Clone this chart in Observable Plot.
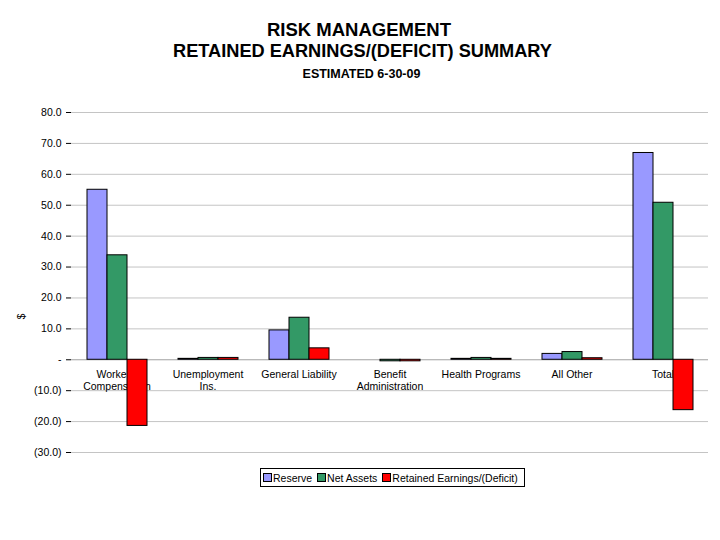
<!DOCTYPE html>
<html>
<head>
<meta charset="utf-8">
<script src="https://cdn.jsdelivr.net/npm/d3@7"></script>
<script src="https://cdn.jsdelivr.net/npm/@observablehq/plot@0.6"></script>
<style>
  html, body { margin: 0; padding: 0; background: #fff; }
  body { width: 720px; height: 540px; position: relative; font-family: "Liberation Sans", Arial, sans-serif; }
  #titles { position: absolute; left: 0; top: 0; width: 720px; text-align: center; color: #000; }
  #t1 { position: absolute; top: 19px; width: 718px; font-size: 18.5px; font-weight: bold; }
  #t2 { position: absolute; top: 41px; width: 725px; font-size: 18.2px; font-weight: bold; }
  #t3 { position: absolute; top: 67px; width: 723px; font-size: 12.5px; font-weight: bold; }
  #chart { position: absolute; left: 0; top: 100px; }
  #ylab { position: absolute; left: 19px; top: 311px; font-size: 10px; transform: rotate(-90deg); transform-origin: center; }
  #legend { position: absolute; left: 260px; top: 468px; height: 17px; border: 1px solid #000; padding-right: 3px;
            font-size: 10.5px; display: flex; align-items: center; white-space: nowrap; }
  .item { display: flex; align-items: center; margin-left: 2px; margin-right: 3px; }
  .sw { width: 7px; height: 7px; border: 1px solid #000; margin-right: 1px; }
</style>
</head>
<body>
<div id="titles">
  <div id="t1">RISK MANAGEMENT</div>
  <div id="t2">RETAINED EARNINGS/(DEFICIT) SUMMARY</div>
  <div id="t3">ESTIMATED 6-30-09</div>
</div>
<div id="ylab">$</div>
<div id="chart"></div>
<div id="legend"></div>
<script>
const categories = ["Workers' Compensation", "Unemployment Ins.", "General Liability", "Benefit Administration", "Health Programs", "All Other", "Total"];
const categoryLabels = ["Workers'\nCompensation", "Unemployment\nIns.", "General Liability", "Benefit\nAdministration", "Health Programs", "All Other", "Total"];
const seriesNames = ["Reserve", "Net Assets", "Retained Earnings/(Deficit)"];
const seriesColors = ["#9999ff", "#339966", "#ff0000"];
const reserve = [55.0, 0.3, 9.5, 0.0, 0.3, 1.9, 66.9];
const netAssets = [33.8, 0.6, 13.6, -0.5, 0.6, 2.5, 50.8];
const retained = [-21.4, 0.6, 3.7, -0.5, 0.3, 0.5, -16.3];
const yTicks = [-30, -20, -10, 0, 10, 20, 30, 40, 50, 60, 70, 80];

const seriesValues = [reserve, netAssets, retained];
const rows = [];
categories.forEach((c, i) => {
  seriesNames.forEach((s, j) => rows.push({category: c, series: s, value: seriesValues[j][i]}));
});
const labelRows = categories.map((c, i) => ({category: c, label: categoryLabels[i]}));

const fmt = v => v === 0 ? "-" : v < 0 ? `(${Math.abs(v).toFixed(1)})` : v.toFixed(1);

const chart = Plot.plot({
  width: 720,
  height: 365,
  marginLeft: 70,
  marginRight: 11.5,
  marginTop: 12,
  marginBottom: 13,
  style: {fontFamily: "'Liberation Sans', Arial, sans-serif", fontSize: "10.5px", color: "#000", background: "transparent"},
  fx: {domain: categories, padding: 0, axis: null},
  x: {domain: seriesNames, paddingInner: 0, paddingOuter: 0.74, axis: null},
  y: {domain: [-30, 80], ticks: yTicks, tickFormat: fmt, tickSize: 5, tickPadding: 5, label: null, grid: false},
  color: {domain: seriesNames, range: seriesColors},
  marks: [
    Plot.ruleY(yTicks.filter(d => d !== 0), {stroke: "#c4c4c4", strokeWidth: 1}),
    Plot.ruleY([0], {stroke: "#a0a0a0", strokeWidth: 1}),
    Plot.text(labelRows, {fx: "category", text: "label", frameAnchor: "middle", y: () => 0, lineAnchor: "top", dy: 10, fontSize: 10.5, lineHeight: 1.15, fill: "#000"}),
    Plot.barY(rows, {fx: "category", x: "series", y: "value", fill: "series", stroke: "#000", strokeWidth: 1}),
    Plot.ruleX([0], {y1: -30, y2: 80, frameAnchor: "left", stroke: "#999"})
  ]
});
document.getElementById("chart").appendChild(chart);

const leg = document.getElementById("legend");
seriesNames.forEach((s, i) => {
  const it = document.createElement("div");
  it.className = "item";
  const sw = document.createElement("div");
  sw.className = "sw";
  sw.style.background = seriesColors[i];
  const t = document.createElement("span");
  t.textContent = s;
  it.appendChild(sw); it.appendChild(t);
  leg.appendChild(it);
});
</script>
</body>
</html>
